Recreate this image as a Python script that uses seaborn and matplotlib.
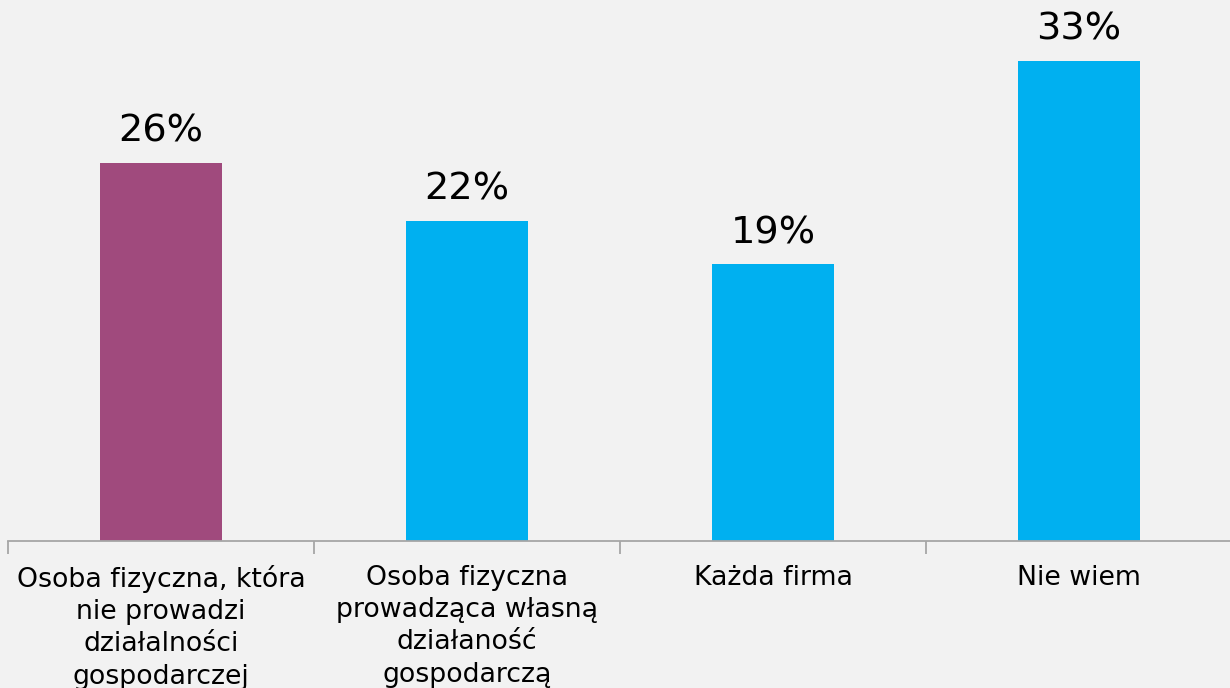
import seaborn as sns
from matplotlib import pyplot as plt
from matplotlib.ticker import FixedLocator
import pandas as pd

categories = ['Osoba fizyczna, która\nnie prowadzi\ndziałalności\ngospodarczej',
              'Osoba fizyczna\nprowadząca własną\ndziałaność\ngospodarczą',
              'Każda firma',
              'Nie wiem']
values = [26, 22, 19, 33]
colors = ['#A04A7D', '#00B0F0', '#00B0F0', '#00B0F0']

sns.set_theme(style='white')
plt.rcParams['font.family'] = ['DejaVu Sans']

df = pd.DataFrame({'category': categories, 'value': values})

fig = plt.figure(figsize=(12.3, 6.88), dpi=100, facecolor='#F2F2F2')
ax = fig.add_axes([8 / 1230, (688 - 541) / 688, 1224 / 1230, 524 / 688])
ax.set_facecolor('#F2F2F2')

sns.barplot(data=df, x='category', y='value', hue='category', palette=colors,
            legend=False, width=0.4, saturation=1, linewidth=0, ax=ax)

for i, v in enumerate(values):
    ax.text(i, v + 0.9, f'{v}%', ha='center', va='bottom', fontsize=27.5, color='black')

ax.set_xlim(-0.5, 3.5)
ax.set_ylim(0, 36)
ax.set_yticks([])
ax.set_xlabel('')
ax.set_ylabel('')
for side in ['top', 'right', 'left']:
    ax.spines[side].set_visible(False)
ax.spines['bottom'].set_color('#A6A6A6')
ax.spines['bottom'].set_linewidth(1.3)

ax.tick_params(axis='x', which='major', length=0, pad=17, labelsize=19.3, labelcolor='black')
ax.xaxis.set_minor_locator(FixedLocator([-0.5, 0.5, 1.5, 2.5, 3.5]))
ax.tick_params(axis='x', which='minor', bottom=True, length=9, width=1.3, color='#A6A6A6')
for lbl in ax.get_xticklabels():
    lbl.set_linespacing(1.32)

fig.savefig('out.png', dpi=100, facecolor='#F2F2F2')
